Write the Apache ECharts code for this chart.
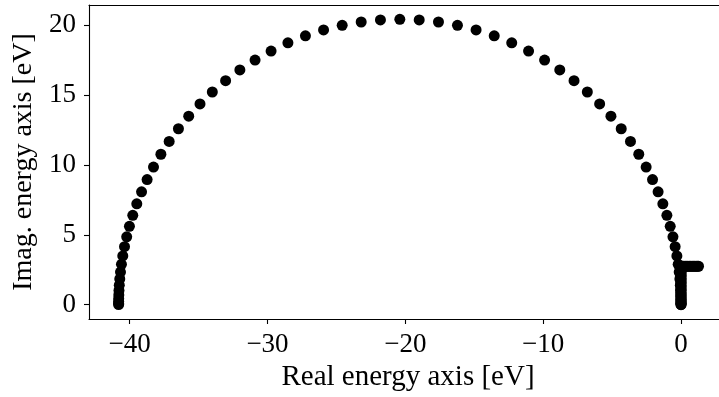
<!DOCTYPE html>
<html>
<head>
<meta charset="utf-8">
<script src="https://cdn.jsdelivr.net/npm/echarts@6/dist/echarts.min.js"></script>
<style>
html,body{margin:0;padding:0;background:#fff;}
#chart{width:719px;height:397px;}
</style>
</head>
<body>
<div id="chart"></div>
<script>
// Contour points on the semicircle (real part, imaginary part), eV
const arcX = [
  -40.800, -40.800, -40.799, -40.795, -40.788, -40.775, -40.752, -40.717, -40.666, -40.595,
  -40.499, -40.374, -40.215, -40.017, -39.774, -39.483, -39.137, -38.734, -38.271, -37.735,
  -37.134, -36.462, -35.716, -34.897, -34.004, -33.039, -32.005, -30.903, -29.740, -28.519,
  -27.248, -25.933, -24.582, -23.204, -21.807, -20.400,
  -18.993, -17.596, -16.218, -14.867, -13.552, -12.281, -11.060, -9.897, -8.795, -7.761,
  -6.796, -5.903, -5.084, -4.338, -3.666, -3.065, -2.529, -2.066, -1.663, -1.317,
  -1.026, -0.783, -0.585, -0.426, -0.301, -0.205, -0.134, -0.083, -0.048, -0.025,
  -0.012, -0.005, -0.001, 0.000, 0.000
];
const arcY = [
  0.017, 0.095, 0.234, 0.434, 0.695, 1.017, 1.398, 1.838, 2.334, 2.886,
  3.491, 4.147, 4.851, 5.600, 6.388, 7.212, 8.066, 8.945, 9.838, 10.754,
  11.667, 12.577, 13.475, 14.353, 15.202, 16.013, 16.778, 17.488, 18.129, 18.714,
  19.216, 19.635, 19.967, 20.206, 20.351, 20.400,
  20.351, 20.206, 19.967, 19.635, 19.216, 18.714, 18.129, 17.488, 16.778, 16.013,
  15.202, 14.353, 13.475, 12.577, 11.667, 10.754, 9.838, 8.945, 8.066, 7.212,
  6.388, 5.600, 4.851, 4.147, 3.491, 2.886, 2.334, 1.838, 1.398, 1.017,
  0.695, 0.434, 0.234, 0.095, 0.017
];
// Vertical stem at Re = 0
const stemX = 0.0;
const stemY = [0.0, 0.1, 0.2, 0.3, 0.4, 0.5, 0.6, 0.7, 0.8, 0.9, 1.0, 1.1, 1.2, 1.3, 1.4,
  1.5, 1.6, 1.7, 1.8, 1.9, 2.0, 2.1, 2.2, 2.3, 2.4, 2.5, 2.6, 2.7, 2.75];
// Horizontal arm at Im = 2.75
const armY = 2.75;
const armX = [0.0, 0.1, 0.2, 0.3, 0.4, 0.5, 0.6, 0.7, 0.8, 0.9, 1.0, 1.1, 1.2, 1.27];

const xTicks = [-40, -30, -20, -10, 0];
const yTicks = [0, 5, 10, 15, 20];

const points = [];
arcX.forEach((x, i) => points.push([x, arcY[i]]));
stemY.forEach(y => points.push([stemX, y]));
armX.forEach(x => points.push([x, armY]));

const FONT = '"Liberation Serif", "DejaVu Serif", serif';
const fmt = v => (v < 0 ? '\u2212' + Math.abs(v) : String(v));
const AXC = {color: '#000', width: 1.1};

const chart = echarts.init(document.getElementById('chart'), null, {renderer: 'canvas'});
chart.setOption({
  animation: false,
  backgroundColor: '#fff',
  grid: {left: 89, right: 0, top: 5, bottom: 75, show: false},
  xAxis: [{
    type: 'value', min: -42.95, max: 2.756,
    axisLine: {show: true, onZero: false, lineStyle: AXC},
    axisTick: {show: true, inside: false, length: 5, customValues: xTicks, lineStyle: AXC},
    axisLabel: {customValues: xTicks, formatter: fmt, margin: 12, fontFamily: FONT, fontSize: 27, color: '#000'},
    splitLine: {show: false},
    name: 'Real energy axis [eV]', nameLocation: 'middle', nameGap: 44,
    nameTextStyle: {fontFamily: FONT, fontSize: 29, color: '#000', padding: [0, 0, 0, 8]}
  }, {
    type: 'value', position: 'top', min: -42.95, max: 2.756,
    axisLine: {show: true, onZero: false, lineStyle: AXC},
    axisTick: {show: false}, axisLabel: {show: false}, splitLine: {show: false}
  }],
  yAxis: {
    type: 'value', min: -1.02, max: 21.42,
    axisLine: {show: true, onZero: false, lineStyle: AXC},
    axisTick: {show: true, inside: false, length: 5, customValues: yTicks, lineStyle: AXC},
    axisLabel: {customValues: yTicks, formatter: fmt, margin: 13, fontFamily: FONT, fontSize: 27, color: '#000'},
    splitLine: {show: false},
    name: 'Imag. energy axis [eV]', nameLocation: 'middle', nameGap: 48, nameRotate: 90,
    nameTextStyle: {fontFamily: FONT, fontSize: 28, color: '#000'}
  },
  series: [{
    type: 'scatter',
    xAxisIndex: 0,
    data: points,
    symbol: 'circle',
    symbolSize: 11,
    itemStyle: {color: '#000', opacity: 1},
    emphasis: {disabled: true},
    silent: true
  }]
});
</script>
</body>
</html>
